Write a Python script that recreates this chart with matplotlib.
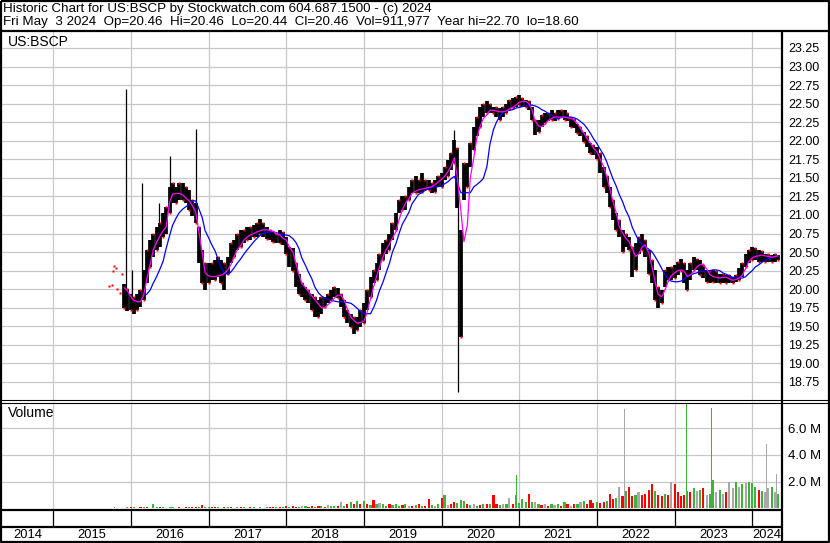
import numpy as np
import pandas as pd
import matplotlib
matplotlib.use("Agg")
import matplotlib.pyplot as plt
import matplotlib.dates as mdates

plt.rcParams["font.family"] = ["Liberation Sans", "DejaVu Sans"]
plt.rcParams["font.size"] = 9

# ---------------- data ----------------
# semi-monthly samples, Dec 2015 .. May 2024
dates = pd.date_range("2015-12-01", "2024-05-01", freq="SMS")

price_hi = [
    20.07, 20.00,  # 2015 Dec
    19.94, 19.90, 19.94, 19.99, 20.26, 20.53, 20.66, 20.75, 20.84, 20.89, 21.02, 21.11,
    21.38, 21.43, 21.38, 21.43, 21.43, 21.38, 21.34, 21.20, 21.16, 20.84, 20.53, 20.35,  # 2016
    20.35, 20.35, 20.39, 20.44, 20.39, 20.35, 20.44, 20.62, 20.66, 20.75, 20.80, 20.80,
    20.84, 20.84, 20.86, 20.89, 20.95, 20.89, 20.84, 20.80, 20.77, 20.75, 20.80, 20.77,  # 2017
    20.71, 20.57, 20.55, 20.35, 20.21, 20.08, 20.03, 19.99, 19.94, 19.90, 19.85, 19.90,
    19.90, 19.94, 19.99, 20.03, 20.01, 19.94, 19.85, 19.72, 19.67, 19.63, 19.63, 19.72,  # 2018
    19.81, 19.99, 20.17, 20.26, 20.35, 20.48, 20.62, 20.66, 20.75, 20.89, 21.02, 21.20,
    21.25, 21.25, 21.38, 21.47, 21.52, 21.47, 21.56, 21.47, 21.47, 21.43, 21.47, 21.52,  # 2019
    21.56, 21.65, 21.74, 21.83, 22.01, 21.90, 20.80, 21.70, 21.70, 21.97, 22.19, 22.32,
    22.46, 22.50, 22.53, 22.50, 22.46, 22.46, 22.44, 22.46, 22.50, 22.55, 22.57, 22.59,  # 2020
    22.62, 22.57, 22.55, 22.53, 22.46, 22.28, 22.28, 22.35, 22.37, 22.37, 22.41, 22.37,
    22.41, 22.41, 22.41, 22.37, 22.32, 22.30, 22.23, 22.19, 22.12, 22.06, 21.97, 21.94,  # 2021
    21.92, 21.83, 21.65, 21.52, 21.38, 21.20, 21.02, 20.93, 20.80, 20.75, 20.71, 20.57,
    20.62, 20.71, 20.75, 20.66, 20.53, 20.39, 20.26, 20.03, 19.99, 20.26, 20.30, 20.30,  # 2022
    20.33, 20.37, 20.41, 20.35, 20.26, 20.35, 20.44, 20.41, 20.39, 20.33, 20.26, 20.24,
    20.26, 20.24, 20.21, 20.21, 20.19, 20.19, 20.17, 20.19, 20.28, 20.35, 20.48, 20.53,  # 2023
    20.57, 20.55, 20.53, 20.51, 20.48, 20.48, 20.46, 20.48, 20.46,  # 2024
]
price_lo = [
    19.75, 19.70,
    19.72, 19.67, 19.72, 19.76, 19.85, 20.08, 20.30, 20.44, 20.53, 20.57, 20.71, 20.75,
    21.02, 21.16, 21.16, 21.20, 21.20, 21.16, 21.07, 20.98, 20.89, 20.35, 20.08, 19.99,
    20.08, 20.12, 20.12, 20.17, 20.08, 19.99, 20.21, 20.35, 20.44, 20.53, 20.57, 20.62,
    20.66, 20.66, 20.71, 20.71, 20.75, 20.71, 20.68, 20.66, 20.64, 20.62, 20.62, 20.60,
    20.48, 20.30, 20.25, 20.03, 19.94, 19.90, 19.85, 19.81, 19.72, 19.63, 19.63, 19.67,
    19.76, 19.81, 19.85, 19.90, 19.88, 19.76, 19.63, 19.54, 19.49, 19.40, 19.45, 19.49,
    19.54, 19.72, 19.90, 20.08, 20.12, 20.26, 20.39, 20.48, 20.53, 20.66, 20.80, 21.02,
    21.07, 21.07, 21.20, 21.29, 21.29, 21.29, 21.31, 21.34, 21.34, 21.29, 21.31, 21.38,
    21.38, 21.47, 21.52, 21.61, 21.70, 21.10, 19.35, 21.20, 21.38, 21.65, 21.88, 22.06,
    22.19, 22.32, 22.37, 22.37, 22.37, 22.32, 22.28, 22.32, 22.37, 22.41, 22.44, 22.46,
    22.48, 22.46, 22.46, 22.41, 22.28, 22.08, 22.12, 22.19, 22.24, 22.26, 22.28, 22.26,
    22.30, 22.32, 22.28, 22.26, 22.19, 22.17, 22.10, 22.06, 21.99, 21.92, 21.83, 21.81,
    21.76, 21.56, 21.38, 21.29, 21.11, 20.93, 20.80, 20.71, 20.50, 20.57, 20.53, 20.17,
    20.26, 20.48, 20.53, 20.44, 20.21, 20.08, 19.85, 19.74, 19.81, 20.03, 20.12, 20.12,
    20.15, 20.19, 20.24, 20.08, 19.99, 20.12, 20.26, 20.26, 20.19, 20.15, 20.10, 20.08,
    20.10, 20.08, 20.08, 20.08, 20.08, 20.08, 20.08, 20.10, 20.12, 20.17, 20.30, 20.35,
    20.39, 20.39, 20.37, 20.37, 20.37, 20.37, 20.37, 20.37, 20.39,
]
ma_short = [
    20.02, 19.98,
    19.90, 19.85, 19.83, 19.83, 19.92, 20.12, 20.34, 20.53, 20.63, 20.71, 20.79, 20.84,
    21.17, 21.28, 21.29, 21.29, 21.27, 21.23, 21.19, 21.13, 21.04, 20.79, 20.50, 20.22,
    20.18, 20.17, 20.17, 20.18, 20.19, 20.21, 20.26, 20.33, 20.44, 20.53, 20.59, 20.66,
    20.70, 20.73, 20.75, 20.77, 20.79, 20.80, 20.80, 20.79, 20.78, 20.75, 20.73, 20.69,
    20.66, 20.57, 20.50, 20.35, 20.20, 20.08, 20.02, 19.97, 19.91, 19.86, 19.80, 19.75,
    19.75, 19.79, 19.83, 19.88, 19.92, 19.92, 19.85, 19.73, 19.62, 19.58, 19.54, 19.55,
    19.57, 19.68, 19.87, 20.03, 20.17, 20.30, 20.44, 20.53, 20.61, 20.69, 20.78, 20.94,
    21.07, 21.16, 21.22, 21.29, 21.32, 21.34, 21.35, 21.36, 21.37, 21.38, 21.41, 21.44,
    21.48, 21.52, 21.59, 21.66, 21.77, 21.50, 21.05, 20.64, 20.86, 21.50, 21.78, 22.05,
    22.20, 22.30, 22.35, 22.41, 22.41, 22.40, 22.39, 22.39, 22.40, 22.43, 22.45, 22.48,
    22.52, 22.53, 22.53, 22.50, 22.42, 22.27, 22.20, 22.19, 22.22, 22.27, 22.30, 22.32,
    22.32, 22.32, 22.32, 22.31, 22.30, 22.28, 22.23, 22.17, 22.10, 22.03, 21.97, 21.90,
    21.85, 21.76, 21.65, 21.52, 21.37, 21.20, 21.03, 20.85, 20.76, 20.69, 20.64, 20.55,
    20.44, 20.47, 20.57, 20.60, 20.49, 20.32, 20.10, 19.93, 19.90, 19.98, 20.10, 20.18,
    20.22, 20.25, 20.26, 20.24, 20.17, 20.19, 20.24, 20.30, 20.33, 20.34, 20.27, 20.20,
    20.17, 20.16, 20.15, 20.16, 20.16, 20.14, 20.12, 20.13, 20.15, 20.19, 20.28, 20.37,
    20.42, 20.44, 20.45, 20.46, 20.45, 20.44, 20.43, 20.44, 20.45,
]
ma_long = [
    np.nan, np.nan,
    np.nan, np.nan, np.nan, np.nan, 19.92, 19.93, 19.99, 20.08, 20.17, 20.26, 20.38, 20.55,
    20.72, 20.86, 20.96, 21.03, 21.08, 21.11, 21.14, 21.19, 21.19, 21.09, 20.97, 20.79,
    20.69, 20.60, 20.51, 20.39, 20.29, 20.22, 20.20, 20.23, 20.29, 20.35, 20.41, 20.47,
    20.53, 20.58, 20.64, 20.68, 20.73, 20.75, 20.77, 20.77, 20.77, 20.76, 20.75, 20.73,
    20.73, 20.72, 20.68, 20.63, 20.55, 20.42, 20.32, 20.23, 20.14, 20.03, 19.95, 19.91,
    19.88, 19.86, 19.85, 19.84, 19.83, 19.83, 19.83, 19.82, 19.81, 19.78, 19.74, 19.70,
    19.67, 19.67, 19.67, 19.75, 19.85, 19.98, 20.10, 20.22, 20.35, 20.50, 20.62, 20.75,
    20.88, 20.95, 21.04, 21.15, 21.22, 21.28, 21.30, 21.33, 21.35, 21.37, 21.38, 21.38,
    21.39, 21.42, 21.45, 21.49, 21.52, 21.43, 21.30, 21.30, 21.30, 21.30, 21.38, 21.41,
    21.45, 21.49, 21.65, 21.95, 22.15, 22.25, 22.33, 22.38, 22.40, 22.41, 22.42, 22.44,
    22.45, 22.46, 22.47, 22.48, 22.48, 22.47, 22.45, 22.42, 22.40, 22.37, 22.35, 22.31,
    22.30, 22.31, 22.32, 22.32, 22.32, 22.31, 22.29, 22.26, 22.22, 22.17, 22.10, 22.03,
    21.96, 21.89, 21.81, 21.72, 21.61, 21.50, 21.39, 21.28, 21.18, 21.07, 20.97, 20.84,
    20.74, 20.66, 20.60, 20.57, 20.54, 20.51, 20.44, 20.37, 20.28, 20.20, 20.14, 20.11,
    20.10, 20.10, 20.11, 20.13, 20.17, 20.19, 20.21, 20.22, 20.24, 20.24, 20.25, 20.25,
    20.26, 20.26, 20.25, 20.22, 20.20, 20.18, 20.16, 20.16, 20.15, 20.15, 20.17, 20.21,
    20.25, 20.30, 20.33, 20.36, 20.39, 20.41, 20.43, 20.44, 20.45,
]
# volume in millions, bar colour: g=up, r=down, k=unchanged
volume = [
    0.05, 0.08,
    0.08, 0.10, 0.06, 0.12, 0.08, 0.10, 0.07, 0.35, 0.10, 0.08, 0.12, 0.06,
    0.10, 0.08, 0.05, 0.10, 0.07, 0.12, 0.08, 0.10, 0.09, 0.10, 0.25, 0.10,
    0.08, 0.12, 0.10, 0.08, 0.07, 0.10, 0.12, 0.08, 0.06, 0.09, 0.10, 0.08,
    0.07, 0.09, 0.10, 0.06, 0.08, 0.07, 0.09, 0.10, 0.08, 0.12, 0.09, 0.10,
    0.20, 0.10, 0.15, 0.12, 0.10, 0.20, 0.15, 0.12, 0.18, 0.10, 0.20, 0.15,
    0.12, 0.25, 0.15, 0.20, 0.18, 0.50, 0.15, 0.30, 0.45, 0.30, 0.55, 0.35,
    0.55, 0.30, 0.25, 0.60, 0.30, 0.40, 0.35, 0.20, 0.30, 0.25, 0.30, 0.20,
    0.25, 0.30, 0.15, 0.20, 0.25, 0.30, 0.15, 0.20, 0.70, 0.25, 0.20, 0.30,
    0.80, 1.00, 0.25, 0.30, 0.50, 0.40, 0.60, 0.55, 0.30, 0.25, 0.30, 0.20,
    0.25, 0.30, 0.35, 0.30, 1.00, 0.30, 0.25, 0.30, 0.35, 0.80, 0.30, 1.00,
    0.40, 0.70, 0.50, 1.10, 0.50, 0.45, 0.30, 0.25, 0.35, 0.20, 0.30, 0.25,
    0.30, 0.20, 0.50, 0.30, 0.20, 0.30, 0.35, 0.50, 0.55, 0.35, 0.60, 0.40,
    0.45, 0.40, 0.50, 0.55, 1.05, 0.70, 0.80, 1.60, 0.90, 1.30, 1.60, 0.90,
    1.00, 1.20, 1.00, 1.10, 1.40, 1.85, 1.30, 1.00, 0.90, 1.10, 1.00, 2.00,
    1.80, 1.20, 0.90, 1.00, 1.30, 1.20, 1.50, 1.30, 1.40, 1.50, 1.00, 1.10,
    2.10, 1.20, 1.40, 1.10, 1.20, 2.00, 1.50, 2.00, 1.60, 1.80, 1.90, 2.00,
    1.90, 1.60, 1.40, 1.30, 1.20, 1.50, 1.60, 1.20, 1.10,
]
vol_dir = ("rg"
           "rggrgrgggrgrggrrgrgrrgrg" "grrggrgrggrgrrgrgrgrrgrg"
           "rgrrgkgrrgrgrkggrkgrgrgr" "grgrgkggrgggrgkrgrgrrgkg"
           "rgkrrgggrgkgrgrgrrgkgkrg" "gggrgkgrkrgkgrgrkrgkgrrr"
           "grrgrrgkrgrrgkrrrrgrrgrk" "rrrrgrgkgrkggkgkrkkgkgkg"
           "ggrgkkgkg")

# first sparse prints in autumn 2015
early_dates = ["2015-09-18", "2015-10-02", "2015-10-07", "2015-10-14",
               "2015-10-21", "2015-10-29", "2015-11-09", "2015-11-19"]
early_px = [20.04, 20.06, 20.25, 20.31, 20.28, 20.00, 19.95, 20.20]
early_vol = [0.04, 0.06, 0.05, 0.08, 0.05, 0.06, 0.07, 0.05]

# single-day spikes (thin lines)
spike_dates = ["2015-12-09", "2016-01-07", "2016-02-23", "2016-05-13",
               "2016-07-04", "2016-11-03", "2020-02-28", "2020-03-16"]
spike_hi = [22.70, 20.26, 21.43, 21.16, 21.79, 22.16, 22.15, 21.20]
spike_lo = [19.76, 19.90, 20.00, 20.60, 21.05, 20.90, 21.70, 18.62]

vspike_dates = ["2020-12-20", "2022-05-08", "2023-02-24", "2023-06-25",
                "2024-03-07", "2024-04-26"]
vspike = [2.5, 7.4, 7.8, 7.5, 4.8, 2.6]
vspike_dir = "gkggkk"

price_ticks = [18.75 + 0.25 * i for i in range(19)]
vol_ticks = [2, 4, 6]
years = list(range(2014, 2025))

header1 = "Historic Chart for US:BSCP by Stockwatch.com 604.687.1500 - (c) 2024"
header2 = ("Fri May  3 2024  Op=20.46  Hi=20.46  Lo=20.44  Cl=20.46  "
           "Vol=911,977  Year hi=22.70  lo=18.60")

# ---------------- figure ----------------
W, H = 830, 543
fig = plt.figure(figsize=(W / 100, H / 100), dpi=100)


def px_axes(x0, y0, x1, y1):
    return fig.add_axes([x0 / W, 1 - y1 / H, (x1 - x0) / W, (y1 - y0) / H])


def num(d):
    return mdates.date2num(pd.to_datetime(d).to_pydatetime())


t = num(dates)
x_left, x_right = num("2014-05-05"), num("2024-05-15")
year_t = num([f"{y}-01-01" for y in years[1:]])
grid_c = "#c8c8c8"
col = {"g": "#3cb43c", "r": "#ff0000", "k": "#a8a8a8"}

# price panel
ax = px_axes(2, 31, 781, 400)
ax.set_xlim(x_left, x_right)
ax.set_ylim(18.507, 23.479)
for v in price_ticks:
    ax.axhline(v, color=grid_c, lw=0.9, zorder=0)
for x in year_t:
    ax.axvline(x, color=grid_c, lw=0.9, zorder=0)
ax.vlines(num(spike_dates), spike_lo, spike_hi, color="black", lw=0.9, zorder=2)
ax.vlines(t, price_lo, price_hi, color="black", lw=2.7, zorder=2)
ax.plot(t[::2], price_lo[::2], "s", color="red", ms=1.9, mec="none", zorder=3)
ax.plot(t[1::2], price_hi[1::2], "s", color="red", ms=1.9, mec="none", zorder=3)
ax.plot(num(early_dates), early_px, "s", color="red", ms=2.0, mec="none", zorder=3)
ax.plot(t, ma_long, color="#0000ff", lw=0.9, zorder=4)
ax.plot(t, ma_short, color="#ff00ff", lw=0.9, zorder=5)
ax.set_xticks([])
ax.set_yticks(price_ticks)
ax.set_yticklabels([f"{v:.2f}" for v in price_ticks])
ax.yaxis.tick_right()
ax.tick_params(axis="y", length=0, pad=5, labelsize=9)
for s in ax.spines.values():
    s.set_visible(False)

# volume panel
av = px_axes(2, 402, 781, 509)
av.set_xlim(x_left, x_right)
av.set_ylim(-0.04, 7.96)
for v in vol_ticks:
    av.axhline(v, color=grid_c, lw=0.9, zorder=0)
for x in year_t:
    av.axvline(x, color=grid_c, lw=0.9, zorder=0)
av.bar(num(early_dates), early_vol, width=4, color=col["g"], zorder=2)
av.bar(t, volume, width=10, color=[col[c] for c in vol_dir], zorder=2)
av.bar(num(vspike_dates), vspike, width=5, color=[col[c] for c in vspike_dir], zorder=2)
av.set_xticks([])
av.set_yticks(vol_ticks)
av.set_yticklabels([f"{v:.1f} M" for v in vol_ticks])
av.yaxis.tick_right()
av.tick_params(axis="y", length=0, pad=5, labelsize=9.5)
for s in av.spines.values():
    s.set_visible(False)

# year strip
ay = px_axes(2, 509, 781, 543)
ay.set_xlim(x_left, x_right)
ay.set_ylim(34, 0)
ay.axis("off")
ay.vlines(year_t, 0, 18, color="black", lw=0.9)
edges = [x_left] + list(year_t) + [x_right]
for i, y in enumerate(years):
    ay.text((edges[i] + edges[i + 1]) / 2, 26.5, str(y), ha="center", va="center", fontsize=9.3)

# frame, separators and labels
ov = fig.add_axes([0, 0, 1, 1], zorder=10)
ov.set_xlim(0, W)
ov.set_ylim(H, 0)
ov.axis("off")
ov.patch.set_alpha(0)
k = dict(color="black", solid_capstyle="butt")
ov.plot([1, 829, 829, 1, 1], [1, 1, 542, 542, 1], lw=1.6, **k)
ov.plot([0, W], [31, 31], lw=1.6, **k)
ov.plot([0, W], [400, 400], lw=0.8, **k)
ov.plot([0, W], [402.5, 402.5], lw=0.8, **k)
ov.plot([0, 781], [509.5, 509.5], lw=1.6, **k)
ov.plot([0, 781], [527, 527], lw=1.6, **k)
ov.plot([781.5, 781.5], [31, H], lw=1.6, **k)
ov.text(3, 9, header1, va="center", ha="left", fontsize=9.6)
ov.text(3, 22, header2, va="center", ha="left", fontsize=9.6)
ov.text(8, 42, "US:BSCP", va="center", ha="left", fontsize=10)
ov.text(8, 413, "Volume", va="center", ha="left", fontsize=10)

fig.savefig("out.png", dpi=100)
